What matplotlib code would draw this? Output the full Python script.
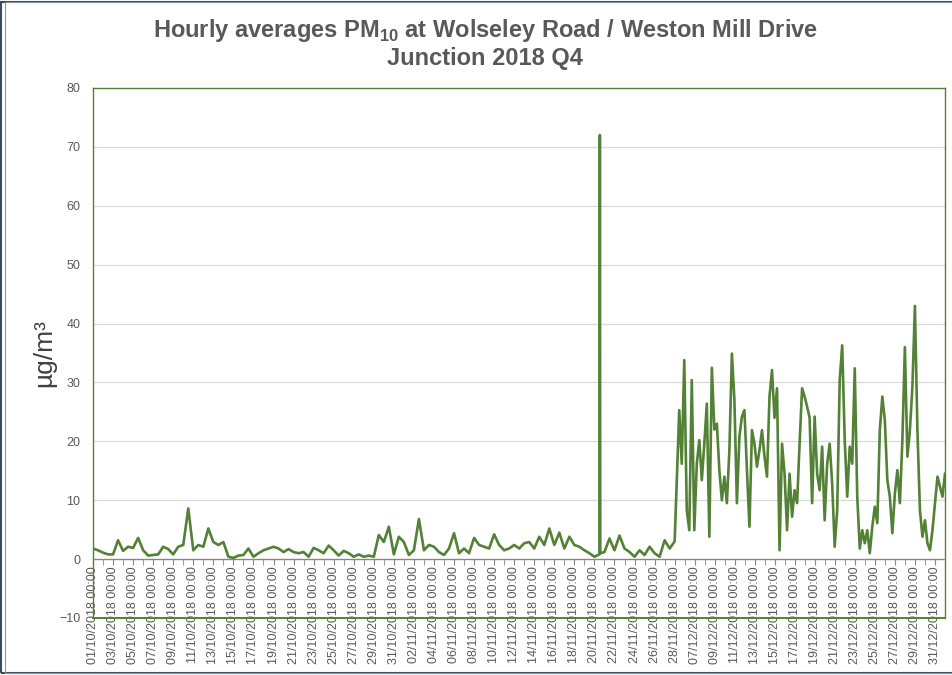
import numpy as np
import pandas as pd
import matplotlib
matplotlib.use("Agg")
import matplotlib.pyplot as plt
from matplotlib.patches import Rectangle

# PM10 readings (ug/m3)
# 1 Oct 00:00 -> 28 Nov 00:00, one reading every 12 hours
oct_nov_pm10 = [
    1.8, 1.5, 1.1, 0.8, 0.8, 3.2, 1.4, 2.1, 1.9, 3.6,
    1.5, 0.6, 0.7, 0.8, 2.1, 1.7, 0.8, 2.1, 2.4, 8.6,
    1.5, 2.4, 2.1, 5.2, 2.9, 2.4, 2.9, 0.4, 0.2, 0.6,
    0.7, 1.8, 0.4, 1.0, 1.5, 1.8, 2.1, 1.8, 1.2, 1.7,
    1.2, 1.0, 1.2, 0.4, 1.9, 1.5, 1.0, 2.3, 1.5, 0.6,
    1.4, 1.0, 0.4, 0.8, 0.4, 0.6, 0.4, 4.1, 2.9, 5.5,
    0.8, 3.8, 2.9, 0.7, 1.5, 6.8, 1.5, 2.4, 2.1, 1.2,
    0.7, 1.8, 4.4, 1.0, 1.8, 1.0, 3.6, 2.4, 2.1, 1.8,
    4.2, 2.4, 1.5, 1.8, 2.4, 1.8, 2.7, 2.9, 1.8, 3.8,
    2.4, 5.2, 2.4, 4.5, 1.8, 3.8, 2.4, 2.1, 1.5, 1.0,
    0.4, 0.8, 1.2, 3.5, 1.5, 4.0, 1.8, 1.2, 0.4, 1.5,
    0.7, 2.1, 1.0, 0.4, 3.2, 1.8, 3.0,
]
oct_nov_start = "2018-10-01 00:00"

# short spike on 20 Nov
spike_times = ["2018-11-20 13:00", "2018-11-20 14:00"]
spike_pm10 = [72.0, 1.0]

# 5 Dec 11:00 -> 31 Dec 23:00, one reading every 6 hours
dec_pm10 = [
    25.3, 16.2, 33.8, 8.3, 4.9, 30.4, 4.9, 16.2, 20.2, 13.4,
    19.6, 26.4, 3.8, 32.5, 22.0, 23.0, 15.1, 10.0, 14.0, 9.5,
    18.5, 34.9, 27.0, 9.5, 20.8, 24.2, 25.3, 15.1, 5.5, 21.9,
    19.6, 15.7, 18.5, 21.9, 17.4, 14.0, 27.6, 32.1, 24.0, 29.0,
    1.5, 19.6, 14.5, 4.9, 14.5, 7.2, 11.7, 9.5, 19.6, 29.0,
    27.6, 25.9, 24.0, 9.5, 24.2, 14.5, 11.7, 19.1, 6.6, 16.2,
    19.6, 12.8, 2.1, 8.3, 30.4, 36.3, 20.2, 10.6, 19.1, 16.2,
    32.4, 10.6, 1.8, 4.9, 2.7, 4.9, 1.0, 5.5, 8.9, 6.1,
    21.9, 27.6, 23.6, 13.4, 10.6, 4.4, 11.1, 15.1, 9.5, 20.2,
    36.0, 17.4, 21.9, 29.3, 43.0, 21.9, 8.3, 3.8, 6.6, 2.7,
    1.5, 4.9, 9.5, 14.0, 12.3, 10.6, 14.5,
]
dec_start = "2018-12-05 11:00"

# hourly rows in the sheet (no rows for the outage 28 Nov 11:00 - 5 Dec 10:00)
rows = pd.date_range("2018-10-01 00:00", "2018-11-28 10:00", freq="h").append(
    pd.date_range("2018-12-05 11:00", "2018-12-31 23:00", freq="h"))

s = pd.concat([
    pd.Series(oct_nov_pm10, index=pd.date_range(oct_nov_start, periods=len(oct_nov_pm10), freq="12h")),
    pd.Series(spike_pm10, index=pd.to_datetime(spike_times)),
    pd.Series(dec_pm10, index=pd.date_range(dec_start, periods=len(dec_pm10), freq="6h")),
]).sort_index()
x = rows.get_indexer(s.index)

green = "#538135"
grey_txt = "#595959"

plt.rcParams["font.family"] = ["Liberation Sans", "DejaVu Sans"]
plt.rcParams["mathtext.fontset"] = "custom"
plt.rcParams["mathtext.rm"] = "Liberation Sans:bold"
plt.rcParams["mathtext.bf"] = "Liberation Sans:bold"

fig = plt.figure(figsize=(9.53, 6.75), dpi=100)
ax = fig.add_axes([93 / 953, 1 - 618 / 675, 852 / 953, 530 / 675])

ax.plot(x, s.values, color=green, lw=1.9, zorder=3)

ax.set_xlim(0, len(rows) - 1)
ax.set_ylim(-10, 80)
ax.set_yticks(range(-10, 81, 10))
for v in range(10, 80, 10):
    ax.axhline(v, color="#d9d9d9", lw=0.9, zorder=1)

# category axis crosses at zero
ax.spines["bottom"].set_position(("data", 0))
ax.spines["bottom"].set_color("#868686")
ax.spines["bottom"].set_linewidth(1.0)
for side in ["top", "left", "right"]:
    ax.spines[side].set_color(green)
    ax.spines[side].set_linewidth(1.0)
ax.axhline(-10, color=green, lw=1.4, clip_on=False, zorder=4)

major = np.arange(0, len(rows), 48)
ax.set_xticks(major)
ax.set_xticklabels([rows[i].strftime("%d/%m/%Y %H:%M") for i in major],
                   rotation=90, fontsize=9, color=grey_txt)
ax.set_xticks(np.arange(0, len(rows), 24), minor=True)
ax.tick_params(axis="x", which="both", direction="out", length=4, color="#868686", pad=1)
ax.tick_params(axis="y", length=0, pad=9, labelsize=9, labelcolor=grey_txt)

ax.set_ylabel("µg/m³", fontsize=19, color="#404040", labelpad=2)

fig.text(0.509, 0.955, r"Hourly averages PM$_{10}$ at Wolseley Road / Weston Mill Drive",
         ha="center", va="center", fontsize=17, fontweight="bold", color=grey_txt)
fig.text(0.509, 0.914, "Junction 2018 Q4",
         ha="center", va="center", fontsize=17, fontweight="bold", color=grey_txt)

# chart frame
fig.patches.append(Rectangle((0.001, 0.003), 1.2, 0.994, transform=fig.transFigure,
                             fill=False, edgecolor="#3b4a5c", lw=1.5))
fig.patches.append(Rectangle((0.005, 0.003), 1.2, 0.994, transform=fig.transFigure,
                             fill=False, edgecolor="#8a96a3", lw=0.8))

fig.savefig("out.png", dpi=100)
